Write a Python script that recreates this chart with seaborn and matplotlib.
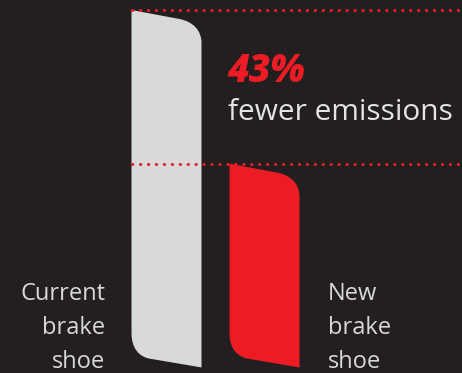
import numpy as np
import matplotlib
matplotlib.use("Agg")
import matplotlib.pyplot as plt
import seaborn as sns
from matplotlib.path import Path
from matplotlib.patches import PathPatch

# data
categories = ["Current\nbrake\nshoe", "New\nbrake\nshoe"]
emissions = [100, 57]
reduction_label = "43%"
reduction_text = "fewer emissions"

bg = "#231f20"
bar_colors = ["#d8d9da", "#ed1c24"]
red = "#ed1c24"

sns.set_theme(style="white")
plt.rcParams['font.family'] = ['Open Sans', 'DejaVu Sans']

fig = plt.figure(figsize=(4.62, 3.73), dpi=100, facecolor=bg)
ax = fig.add_axes([0, 0, 1, 1])
ax.set_facecolor(bg)

sns.barplot(x=list(range(len(categories))), y=emissions, hue=list(range(len(categories))),
            palette=bar_colors, width=0.714, legend=False, saturation=1, ax=ax)

ax.set_xlim(-1.699, 3.015)
ax.set_ylim(-1.55, 102.8)
ax.axis("off")

# turn the plain bars into brake-shoe shapes (slanted top, rounded corners)
to_px = ax.transData
to_data = ax.transData.inverted()
for bar in list(ax.patches):
    x0, y0, w, h = bar.get_x(), bar.get_y(), bar.get_width(), bar.get_height()
    (L, B), (R, T) = to_px.transform([(x0, y0), (x0 + w, y0 + h)])
    verts = [
        (L, T),
        (R - 22, T - 9),
        (R - 9, T - 11.5), (R, T - 20), (R, T - 33),
        (R, B),
        (L + 20, B + 8.5),
        (L + 7, B + 10), (L, B + 20), (L, B + 34),
        (L, T),
    ]
    codes = [Path.MOVETO, Path.LINETO,
             Path.CURVE4, Path.CURVE4, Path.CURVE4,
             Path.LINETO, Path.LINETO,
             Path.CURVE4, Path.CURVE4, Path.CURVE4,
             Path.CLOSEPOLY]
    verts = to_data.transform(verts)
    ax.add_patch(PathPatch(Path(verts, codes), facecolor=bar.get_facecolor(),
                           edgecolor="none", zorder=3))
    bar.set_visible(False)

# dotted reference lines (drawn over the bars)
left_edge = ax.patches[0].get_x()
ax.hlines(emissions, left_edge, ax.get_xlim()[1], colors=red, linewidth=2.2,
          linestyles=[(0, (0.1, 2.5))], capstyle="round", zorder=4)

# annotation
fig.text(227 / 462, 1 - 82 / 373, reduction_label, color=red, fontsize=27,
         fontweight="heavy", fontstyle="italic", ha="left", va="baseline")
fig.text(228 / 462, 1 - 120 / 373, reduction_text, color="#e4e4e4", fontsize=21.5,
         ha="left", va="baseline")

# category labels
fig.text(105 / 462, 1 - 368 / 373, categories[0], color="#d9d9d9", fontsize=17,
         ha="right", va="baseline", multialignment="right", linespacing=1.55)
fig.text(328 / 462, 1 - 368 / 373, categories[1], color="#d9d9d9", fontsize=17,
         ha="left", va="baseline", multialignment="left", linespacing=1.55)

fig.savefig("out.png", dpi=100, facecolor=bg)
